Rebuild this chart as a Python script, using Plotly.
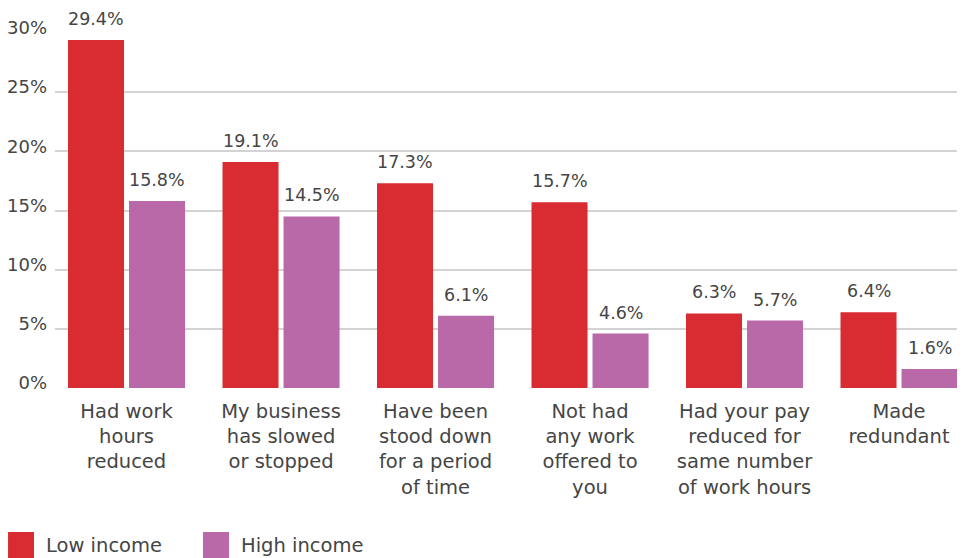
import plotly.graph_objects as go

categories = [
    "Had work<br>hours<br>reduced",
    "My business<br>has slowed<br>or stopped",
    "Have been<br>stood down<br>for a period<br>of time",
    "Not had<br>any work<br>offered to<br>you",
    "Had your pay<br>reduced for<br>same number<br>of work hours",
    "Made<br>redundant",
]
series_names = ["Low income", "High income"]
low_income = [29.4, 19.1, 17.3, 15.7, 6.3, 6.4]
high_income = [15.8, 14.5, 6.1, 4.6, 5.7, 1.6]
colors = ["#D92B32", "#B968A8"]
tick_vals = [0, 5, 10, 15, 20, 25, 30]
tick_text = ["0%", "5%", "10%", "15%", "20%", "25%", "30%"]

FONT = "DejaVu Sans"
TXT = "#454545"

fig = go.Figure()
xs = list(range(len(categories)))
for name, vals, col in zip(series_names, [low_income, high_income], colors):
    fig.add_trace(go.Bar(
        x=xs, y=vals, name=name, marker_color=col, marker_line_width=0,
        showlegend=False, hoverinfo="y",
    ))

# value labels, anchored to data values through the axes
label_shift = [-30.5, 30.5]
for vals, dx in zip([low_income, high_income], label_shift):
    for x, v in zip(xs, vals):
        fig.add_annotation(x=x, y=v, xref="x", yref="y", text=f"{v:.1f}%",
                           showarrow=False, xshift=dx, yshift=9, yanchor="bottom",
                           font=dict(size=17.5, color=TXT, family=FONT))

# manual legend (paper coords relative to plot area)
legend_sq = [(-0.0516, -0.0231), (0.1626, 0.1912)]
for name, col, (x0, x1) in zip(series_names, colors, legend_sq):
    fig.add_shape(type="rect", xref="paper", yref="paper",
                  x0=x0, x1=x1, y0=-0.4789, y1=-0.4056,
                  fillcolor=col, line_width=0)
    fig.add_annotation(text=name, xref="paper", yref="paper", x=x1 + 0.0115, y=-0.445,
                       xanchor="left", yanchor="middle", showarrow=False,
                       font=dict(size=19.5, color=TXT, family=FONT))

fig.update_layout(
    width=957, height=550,
    margin=dict(l=47, r=0, t=25, b=170, autoexpand=False),
    plot_bgcolor="white", paper_bgcolor="white",
    barmode="group", bargap=0.21, bargroupgap=0.082,
    font=dict(family=FONT, color=TXT, size=19),
    xaxis=dict(tickmode="array", tickvals=xs, ticktext=categories,
               range=[-0.463, 5.427], showgrid=False, zeroline=False, showline=False,
               ticks="", ticklabelstandoff=9, automargin=False,
               tickfont=dict(size=19.5, color=TXT, family=FONT)),
    yaxis=dict(range=[0, 30], tickvals=tick_vals, ticktext=tick_text,
               showgrid=True, gridcolor="#D3D3D3", gridwidth=2, zeroline=False,
               showline=False, ticks="", ticklabelstandoff=7, ticklabelshift=-5,
               automargin=False, tickfont=dict(size=18, color=TXT, family=FONT)),
)
fig.write_html("out.html")
